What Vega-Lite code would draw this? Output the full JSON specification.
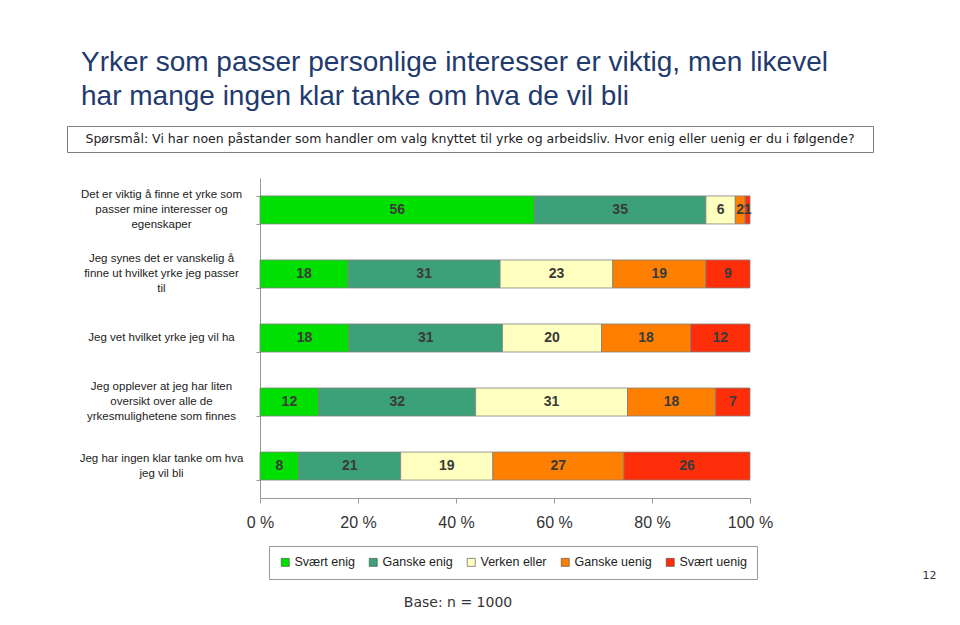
{
  "$schema": "https://vega.github.io/schema/vega-lite/v6.json",
  "background": "white",
  "padding": {"left": 66, "top": 48, "right": 0, "bottom": 0},
  "title": {
    "text": ["Yrker som passer personlige interesser er viktig, men likevel", "har mange ingen klar tanke om hva de vil bli"],
    "anchor": "start",
    "frame": "group",
    "dx": 14,
    "offset": 15,
    "font": "Liberation Sans",
    "fontSize": 28,
    "fontWeight": "normal",
    "lineHeight": 34,
    "color": "#1F3A6E"
  },
  "datasets": {
    "utsagn": [
      {"utsagn": "Det er viktig å finne et yrke som|passer mine interesser og|egenskaper"},
      {"utsagn": "Jeg synes det er vanskelig å|finne ut hvilket yrke jeg passer|til"},
      {"utsagn": "Jeg vet hvilket yrke jeg vil ha"},
      {"utsagn": "Jeg opplever at jeg har liten|oversikt over alle de|yrkesmulighetene som finnes"},
      {"utsagn": "Jeg har ingen klar tanke om hva|jeg vil bli"}
    ],
    "svar": [
      {"utsagn": "Det er viktig å finne et yrke som|passer mine interesser og|egenskaper", "svar": "Svært enig", "ord": 1, "andel": 56},
      {"utsagn": "Det er viktig å finne et yrke som|passer mine interesser og|egenskaper", "svar": "Ganske enig", "ord": 2, "andel": 35},
      {"utsagn": "Det er viktig å finne et yrke som|passer mine interesser og|egenskaper", "svar": "Verken eller", "ord": 3, "andel": 6},
      {"utsagn": "Det er viktig å finne et yrke som|passer mine interesser og|egenskaper", "svar": "Ganske uenig", "ord": 4, "andel": 2},
      {"utsagn": "Det er viktig å finne et yrke som|passer mine interesser og|egenskaper", "svar": "Svært uenig", "ord": 5, "andel": 1},
      {"utsagn": "Jeg synes det er vanskelig å|finne ut hvilket yrke jeg passer|til", "svar": "Svært enig", "ord": 1, "andel": 18},
      {"utsagn": "Jeg synes det er vanskelig å|finne ut hvilket yrke jeg passer|til", "svar": "Ganske enig", "ord": 2, "andel": 31},
      {"utsagn": "Jeg synes det er vanskelig å|finne ut hvilket yrke jeg passer|til", "svar": "Verken eller", "ord": 3, "andel": 23},
      {"utsagn": "Jeg synes det er vanskelig å|finne ut hvilket yrke jeg passer|til", "svar": "Ganske uenig", "ord": 4, "andel": 19},
      {"utsagn": "Jeg synes det er vanskelig å|finne ut hvilket yrke jeg passer|til", "svar": "Svært uenig", "ord": 5, "andel": 9},
      {"utsagn": "Jeg vet hvilket yrke jeg vil ha", "svar": "Svært enig", "ord": 1, "andel": 18},
      {"utsagn": "Jeg vet hvilket yrke jeg vil ha", "svar": "Ganske enig", "ord": 2, "andel": 31},
      {"utsagn": "Jeg vet hvilket yrke jeg vil ha", "svar": "Verken eller", "ord": 3, "andel": 20},
      {"utsagn": "Jeg vet hvilket yrke jeg vil ha", "svar": "Ganske uenig", "ord": 4, "andel": 18},
      {"utsagn": "Jeg vet hvilket yrke jeg vil ha", "svar": "Svært uenig", "ord": 5, "andel": 12},
      {"utsagn": "Jeg opplever at jeg har liten|oversikt over alle de|yrkesmulighetene som finnes", "svar": "Svært enig", "ord": 1, "andel": 12},
      {"utsagn": "Jeg opplever at jeg har liten|oversikt over alle de|yrkesmulighetene som finnes", "svar": "Ganske enig", "ord": 2, "andel": 32},
      {"utsagn": "Jeg opplever at jeg har liten|oversikt over alle de|yrkesmulighetene som finnes", "svar": "Verken eller", "ord": 3, "andel": 31},
      {"utsagn": "Jeg opplever at jeg har liten|oversikt over alle de|yrkesmulighetene som finnes", "svar": "Ganske uenig", "ord": 4, "andel": 18},
      {"utsagn": "Jeg opplever at jeg har liten|oversikt over alle de|yrkesmulighetene som finnes", "svar": "Svært uenig", "ord": 5, "andel": 7},
      {"utsagn": "Jeg har ingen klar tanke om hva|jeg vil bli", "svar": "Svært enig", "ord": 1, "andel": 8},
      {"utsagn": "Jeg har ingen klar tanke om hva|jeg vil bli", "svar": "Ganske enig", "ord": 2, "andel": 21},
      {"utsagn": "Jeg har ingen klar tanke om hva|jeg vil bli", "svar": "Verken eller", "ord": 3, "andel": 19},
      {"utsagn": "Jeg har ingen klar tanke om hva|jeg vil bli", "svar": "Ganske uenig", "ord": 4, "andel": 27},
      {"utsagn": "Jeg har ingen klar tanke om hva|jeg vil bli", "svar": "Svært uenig", "ord": 5, "andel": 26}
    ]
  },
  "spacing": 25,
  "vconcat": [
    {
      "width": 806,
      "height": 26,
      "view": {"stroke": "#7f7f7f", "strokeWidth": 1, "fill": "white"},
      "data": {"values": [{"q": "Spørsmål: Vi har noen påstander som handler om valg knyttet til yrke og arbeidsliv. Hvor enig eller uenig er du i følgende?"}]},
      "mark": {"type": "text", "font": "DejaVu Sans", "fontSize": 12.5, "color": "#222", "align": "center", "baseline": "middle"},
      "encoding": {"text": {"field": "q", "type": "nominal"}}
    },
    {
      "spacing": 2,
      "hconcat": [
        {
          "width": 177,
          "height": 320,
          "view": {"stroke": null},
          "data": {"name": "utsagn"},
          "encoding": {
            "y": {
              "field": "utsagn",
              "type": "nominal",
              "sort": [
                "Det er viktig å finne et yrke som|passer mine interesser og|egenskaper",
                "Jeg synes det er vanskelig å|finne ut hvilket yrke jeg passer|til",
                "Jeg vet hvilket yrke jeg vil ha",
                "Jeg opplever at jeg har liten|oversikt over alle de|yrkesmulighetene som finnes",
                "Jeg har ingen klar tanke om hva|jeg vil bli"
              ],
              "scale": {"paddingInner": 0.5625, "paddingOuter": 0.28},
              "axis": null
            },
            "text": {"field": "utsagn", "type": "nominal"}
          },
          "layer": [
            {
              "transform": [{"filter": "length(split(datum.utsagn, '|')) == 3"}],
              "mark": {"type": "text", "lineBreak": "|", "lineHeight": 15, "font": "Liberation Sans", "fontSize": 11.5, "color": "#222", "align": "center", "baseline": "middle", "dx": 6, "dy": -15}
            },
            {
              "transform": [{"filter": "length(split(datum.utsagn, '|')) == 2"}],
              "mark": {"type": "text", "lineBreak": "|", "lineHeight": 15, "font": "Liberation Sans", "fontSize": 11.5, "color": "#222", "align": "center", "baseline": "middle", "dx": 6, "dy": -7.5}
            },
            {
              "transform": [{"filter": "length(split(datum.utsagn, '|')) == 1"}],
              "mark": {"type": "text", "lineBreak": "|", "lineHeight": 15, "font": "Liberation Sans", "fontSize": 11.5, "color": "#222", "align": "center", "baseline": "middle", "dx": 6}
            }
          ]
        },
        {
          "width": 490,
          "height": 320,
          "view": {"stroke": null},
          "title": {
            "text": "Base: n = 1000",
            "orient": "bottom",
            "anchor": "middle",
            "frame": "group",
            "dx": -47,
            "offset": 16,
            "font": "DejaVu Sans",
            "fontSize": 14,
            "fontWeight": "normal",
            "color": "#333"
          },
          "data": {"name": "svar"},
          "encoding": {
            "y": {
              "field": "utsagn",
              "type": "nominal",
              "sort": [
                "Det er viktig å finne et yrke som|passer mine interesser og|egenskaper",
                "Jeg synes det er vanskelig å|finne ut hvilket yrke jeg passer|til",
                "Jeg vet hvilket yrke jeg vil ha",
                "Jeg opplever at jeg har liten|oversikt over alle de|yrkesmulighetene som finnes",
                "Jeg har ingen klar tanke om hva|jeg vil bli"
              ],
              "scale": {"paddingInner": 0.5625, "paddingOuter": 0.28},
              "axis": {
                "title": null,
                "labels": false,
                "minExtent": 0,
                "tickBand": "extent",
                "tickSize": 4,
                "tickColor": "#999",
                "domainColor": "#999",
                "grid": false
              }
            }
          },
          "layer": [
            {
              "mark": {"type": "bar", "stroke": "#808080", "strokeWidth": 0.8},
              "encoding": {
                "x": {
                  "field": "andel",
                  "type": "quantitative",
                  "stack": "normalize",
                  "scale": {"domain": [0, 1], "nice": false},
                  "axis": {
                    "values": [0, 0.2, 0.4, 0.6, 0.8, 1],
                    "labelExpr": "format(datum.value * 100, '.0f') + ' %'",
                    "labelFont": "Liberation Sans",
                    "labelFontSize": 16,
                    "labelColor": "#333",
                    "labelPadding": 11,
                    "labelFlush": false,
                    "tickSize": 5,
                    "tickColor": "#999",
                    "domainColor": "#999",
                    "grid": false,
                    "title": "12",
                    "titleX": 662,
                    "titleY": 77,
                    "titleAngle": 0,
                    "titleAlign": "left",
                    "titleBaseline": "middle",
                    "titleFont": "DejaVu Sans",
                    "titleFontSize": 11,
                    "titleFontWeight": "normal",
                    "titleColor": "#333"
                  }
                },
                "color": {
                  "field": "svar",
                  "type": "nominal",
                  "sort": null,
                  "scale": {
                    "domain": ["Svært enig", "Ganske enig", "Verken eller", "Ganske uenig", "Svært uenig"],
                    "range": ["#00E000", "#3CA078", "#FFFFC0", "#FF7F00", "#FF2E0A"]
                  },
                  "legend": {
                    "orient": "none",
                    "legendX": 202,
                    "legendY": 420,
                    "direction": "horizontal",
                    "title": null,
                    "strokeColor": "#999",
                    "fillColor": "white",
                    "padding": 10,
                    "symbolType": "square",
                    "symbolSize": 64,
                    "symbolStrokeColor": "#444",
                    "symbolStrokeWidth": 0.6,
                    "labelFont": "Liberation Sans",
                    "labelFontSize": 12.5,
                    "labelColor": "#222",
                    "labelOffset": 3,
                    "columnPadding": 12
                  }
                },
                "order": {"field": "ord", "type": "quantitative"}
              }
            },
            {
              "mark": {"type": "text", "font": "Liberation Sans", "fontSize": 14, "fontWeight": "bold", "color": "#3a3a3a", "align": "center", "baseline": "middle"},
              "encoding": {
                "x": {
                  "field": "andel",
                  "type": "quantitative",
                  "stack": "normalize",
                  "bandPosition": 0.5,
                  "scale": {"domain": [0, 1], "nice": false},
                  "axis": {
                    "values": [0, 0.2, 0.4, 0.6, 0.8, 1],
                    "labelExpr": "format(datum.value * 100, '.0f') + ' %'",
                    "labelFont": "Liberation Sans",
                    "labelFontSize": 16,
                    "labelColor": "#333",
                    "labelPadding": 11,
                    "labelFlush": false,
                    "tickSize": 5,
                    "tickColor": "#999",
                    "domainColor": "#999",
                    "grid": false,
                    "title": "12",
                    "titleX": 662,
                    "titleY": 77,
                    "titleAngle": 0,
                    "titleAlign": "left",
                    "titleBaseline": "middle",
                    "titleFont": "DejaVu Sans",
                    "titleFontSize": 11,
                    "titleFontWeight": "normal",
                    "titleColor": "#333"
                  }
                },
                "detail": {"field": "svar", "type": "nominal"},
                "order": {"field": "ord", "type": "quantitative"},
                "text": {"field": "andel", "type": "quantitative"}
              }
            }
          ]
        }
      ]
    }
  ]
}
